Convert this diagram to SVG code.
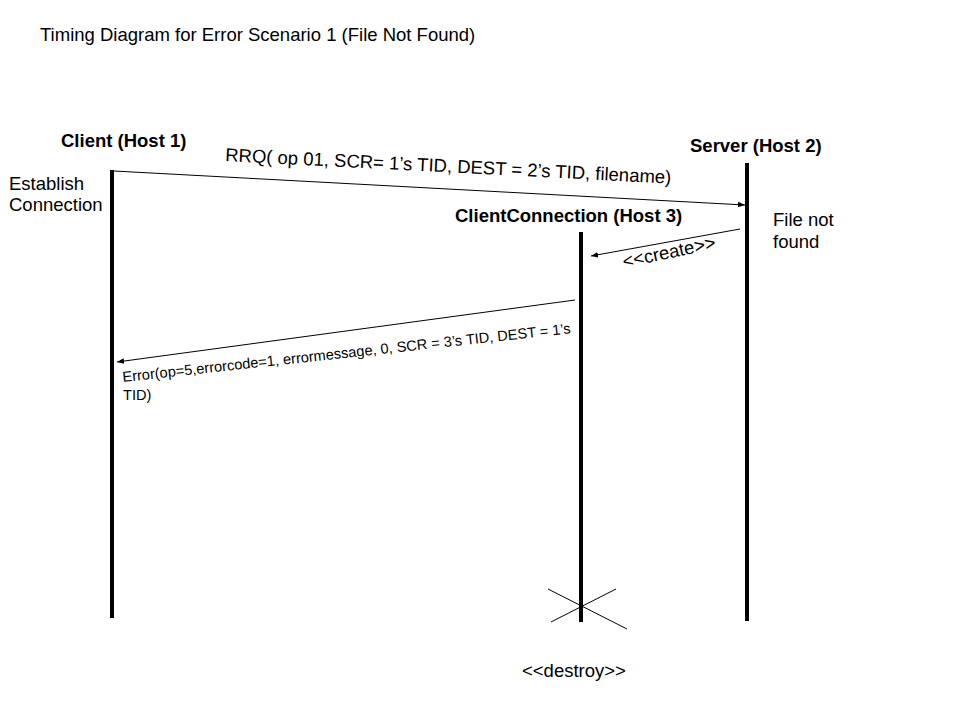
<svg xmlns="http://www.w3.org/2000/svg" width="960" height="720" viewBox="0 0 960 720">
<style>
text{font-family:"Liberation Sans",Arial,sans-serif;fill:#000}
.t{font-size:18.5px}
.b{font-size:18.5px;font-weight:bold}
.s{font-size:14.6px}
.life{stroke:#000;stroke-width:4}
.msg{stroke:#000;stroke-width:1;fill:none}
</style>
<defs>
<marker id="ah" viewBox="0 0 10 10" refX="10" refY="5" markerWidth="7" markerHeight="7" orient="auto" markerUnits="userSpaceOnUse">
<path d="M0,1 L10,5 L0,9 z" fill="#000"/>
</marker>
</defs>
<rect width="960" height="720" fill="#fff"/>
<text class="t" x="40" y="41">Timing Diagram for Error Scenario 1 (File Not Found)</text>
<g id="client">
<text class="b" x="61" y="147">Client (Host 1)</text>
<line class="life" x1="112" y1="170" x2="112" y2="618"/>
<text class="t" x="9" y="190">Establish</text>
<text class="t" x="9" y="211">Connection</text>
</g>
<g id="server">
<text class="b" x="690" y="152">Server (Host 2)</text>
<line class="life" x1="747" y1="163" x2="747" y2="621"/>
<text class="t" x="773" y="226">File not</text>
<text class="t" x="773" y="248">found</text>
</g>
<g id="clientconnection">
<text class="b" x="455" y="222">ClientConnection (Host 3)</text>
<line class="life" x1="581" y1="232" x2="581" y2="622"/>
<line class="msg" x1="548" y1="589" x2="627" y2="629"/>
<line class="msg" x1="551" y1="622" x2="616" y2="589"/>
<text class="t" x="522" y="677">&lt;&lt;destroy&gt;&gt;</text>
</g>
<g id="connectors">
<line class="msg" x1="114" y1="171" x2="745" y2="205" marker-end="url(#ah)"/>
<text class="t" transform="translate(225,161) rotate(2.9)">RRQ( op 01, SCR= 1’s TID, DEST = 2’s TID, filename)</text>
<line class="msg" x1="740" y1="229" x2="591" y2="256" marker-end="url(#ah)"/>
<text class="t" transform="translate(624,268) rotate(-12)">&lt;&lt;create&gt;&gt;</text>
<line class="msg" x1="575" y1="300" x2="117" y2="362" marker-end="url(#ah)"/>
<text class="s" transform="translate(123,382) rotate(-6.2)">Error(op=5,errorcode=1, errormessage, 0, SCR = 3’s TID, DEST = 1’s</text>
<text class="s" x="123" y="400">TID)</text>
</g>
</svg>
